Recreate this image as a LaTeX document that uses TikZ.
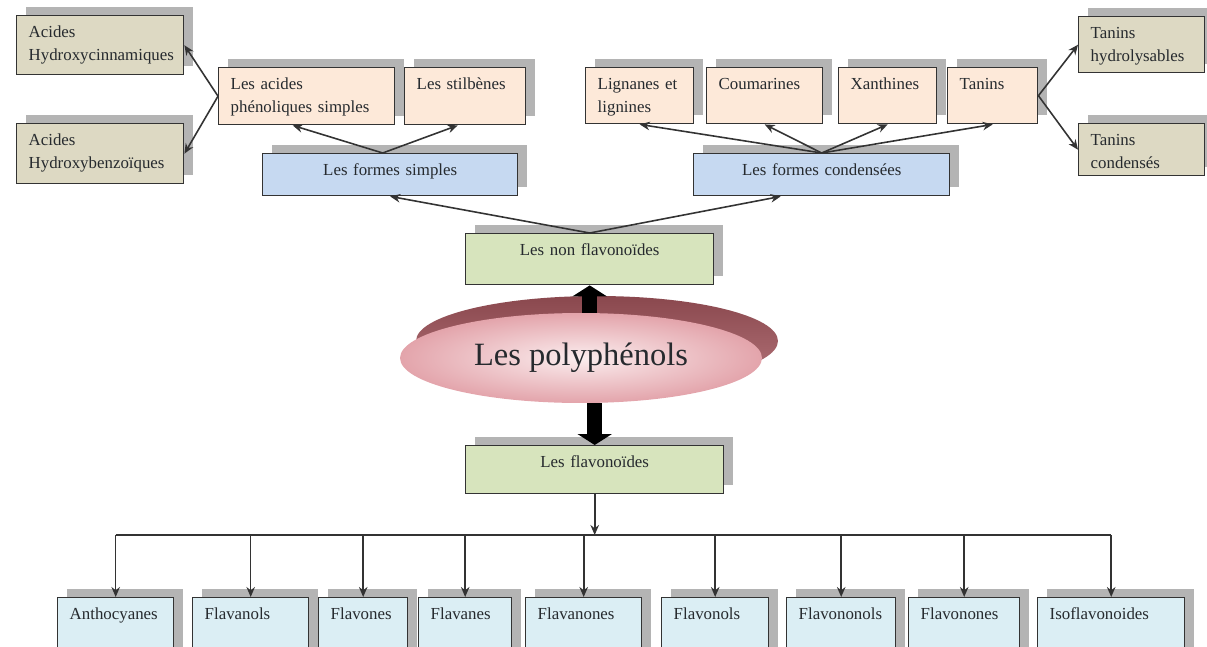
\documentclass[tikz,border=0pt]{standalone}
\usepackage{fontspec}
\setmainfont{Liberation Serif}
\usepackage{tikz}
\usetikzlibrary{arrows.meta,shapes.geometric,shadows,backgrounds}

\definecolor{tanfill}{HTML}{DDD9C3}
\definecolor{peachfill}{HTML}{FDE9D9}
\definecolor{formfill}{HTML}{C6D9F1}
\definecolor{greenfill}{HTML}{D7E4BD}
\definecolor{flavfill}{HTML}{DBEEF4}
\definecolor{shadowgray}{HTML}{B4B4B4}
\definecolor{linegray}{HTML}{333333}
\definecolor{textdark}{HTML}{262A2E}
\definecolor{diskdark}{HTML}{8A484E}
\definecolor{diskback}{HTML}{B4747A}
\definecolor{diskin}{HTML}{FBEDEE}
\definecolor{diskout}{HTML}{E3A4AB}

\newcommand{\boxfont}{\fontsize{9.6}{13}\selectfont}
\hfuzz=6pt

\tikzset{
  cadre/.style={draw=linegray, line width=0.8pt, anchor=north west, inner xsep=0.24cm, inner ysep=0.1cm,
    text height=0.34cm, align=left, text=textdark, font=\boxfont,
    drop shadow={shadow xshift=0.18cm, shadow yshift=0.18cm, fill=shadowgray, opacity=1}},
  boxsize/.code 2 args={%
    \pgfmathsetlengthmacro\boxw{#1*0.02cm-0.48cm}%
    \pgfmathsetlengthmacro\boxd{#2*0.02cm-0.54cm}%
    \pgfkeysalso{/tikz/text width/.expanded=\boxw, /tikz/text depth/.expanded=\boxd}},
  acide/.style={cadre, fill=tanfill},
  famille/.style={cadre, fill=peachfill},
  forme/.style={cadre, fill=formfill, align=center},
  classe/.style={cadre, fill=greenfill, align=center},
  flav/.style={cadre, fill=flavfill},
  conn/.style={draw=linegray, line width=0.9pt},
  arrow/.style={conn, -{Stealth[length=0.2cm,width=0.17cm]}},
  bigarrow/.style={line width=0.3cm, -{Triangle[width=0.68cm,length=0.22cm]}},
}

\begin{document}
\begin{tikzpicture}[x=0.02cm, y=-0.02cm]
  \useasboundingbox (0,0) rectangle (1207,646);
  \clip (0,0) rectangle (1207,646);

  % non flavonoides
  \node[acide, boxsize={167}{59}] (hc) at (16,15) {Acides\\Hydroxycinnamiques};
  \node[acide, boxsize={167}{60}] (hb) at (16,123) {Acides\\Hydroxybenzoïques};
  \node[famille, boxsize={176}{57}] (aps) at (218,67) {Les acides\\phénoliques simples};
  \node[famille, boxsize={121}{57}] (stil) at (404,67) {Les stilbènes};
  \node[famille, boxsize={108}{56}] (lig) at (585,67) {Lignanes et\\lignines};
  \node[famille, boxsize={116}{56}] (coum) at (706,67) {Coumarines};
  \node[famille, boxsize={98}{56}] (xan) at (838,67) {Xanthines};
  \node[famille, boxsize={90}{56}] (tan) at (947,67) {Tanins};
  \node[acide, boxsize={126}{56}] (th) at (1078,16) {Tanins\\hydrolysables};
  \node[acide, boxsize={126}{52}] (tc) at (1078,123) {Tanins\\condensés};
  \node[forme, boxsize={255}{42}] (fs) at (262,153) {Les formes simples};
  \node[forme, boxsize={256}{42}] (fc) at (693,153) {Les formes condensées};
  \node[classe, boxsize={248}{51}] (nf) at (465,233) {Les non flavonoïdes};

  \draw[arrow] (aps.west) -- (hc.east);
  \draw[arrow] (aps.west) -- (hb.east);
  \draw[arrow] (tan.east) -- (th.west);
  \draw[arrow] (tan.east) -- (tc.west);
  \draw[arrow] ([xshift=-0.15cm]fs.north) -- ([xshift=-0.28cm]aps.south);
  \draw[arrow] ([xshift=-0.15cm]fs.north) -- ([xshift=-0.15cm]stil.south);
  \foreach \n in {lig,coum,xan,tan}
    \draw[arrow] (fc.north) -- (\n.south);
  \draw[arrow] (nf.north) -- (fs.south);
  \draw[arrow] (nf.north) -- ([xshift=-0.82cm]fc.south);

  % polyphenols
  \node[ellipse, minimum width=7.24cm, minimum height=1.8cm, inner sep=0pt, shade, inner color=diskin,
    outer color=diskout, font=\fontsize{18.5}{22}\selectfont, text=textdark] (poly) at (581,358) {Les polyphénols};
  \begin{scope}[on background layer]
    \node[ellipse, minimum width=7.24cm, minimum height=1.8cm, inner sep=0pt, top color=diskdark,
      bottom color=diskback] (polyback) at (597,341) {};
    \draw[bigarrow] (poly.north -| nf.south) -- (nf.south);
  \end{scope}

  % flavonoides
  \node[classe, boxsize={258}{48}] (fl) at (465,445) {Les flavonoïdes};
  \draw[bigarrow] (poly.south -| fl.north) -- (fl.north);

  \node[flav, boxsize={116}{62}] (anth) at (57,597) {Anthocyanes};
  \node[flav, boxsize={116}{62}] (fnol) at (192,597) {Flavanols};
  \node[flav, boxsize={89}{62}] (fone) at (318,597) {Flavones};
  \node[flav, boxsize={93}{62}] (fane) at (418,597) {Flavanes};
  \node[flav, boxsize={116}{62}] (fnone) at (525,597) {Flavanones};
  \node[flav, boxsize={107}{62}] (fonol) at (661,597) {Flavonols};
  \node[flav, boxsize={109}{62}] (fonon) at (786,597) {Flavononols};
  \node[flav, boxsize={111}{62}] (fonone) at (908,597) {Flavonones};
  \node[flav, boxsize={147}{62}] (iso) at (1037,597) {Isoflavonoides};

  \coordinate (split) at (fl.south |- 0,535);
  \draw[arrow] (fl.south) -- (split);
  \draw[conn] (anth.north |- split) -- (iso.north |- split);
  \foreach \n in {anth,fnol,fone,fane,fnone,fonol,fonon,fonone,iso}
    \draw[arrow] (\n.north |- split) -- (\n.north);
\end{tikzpicture}
\end{document}
